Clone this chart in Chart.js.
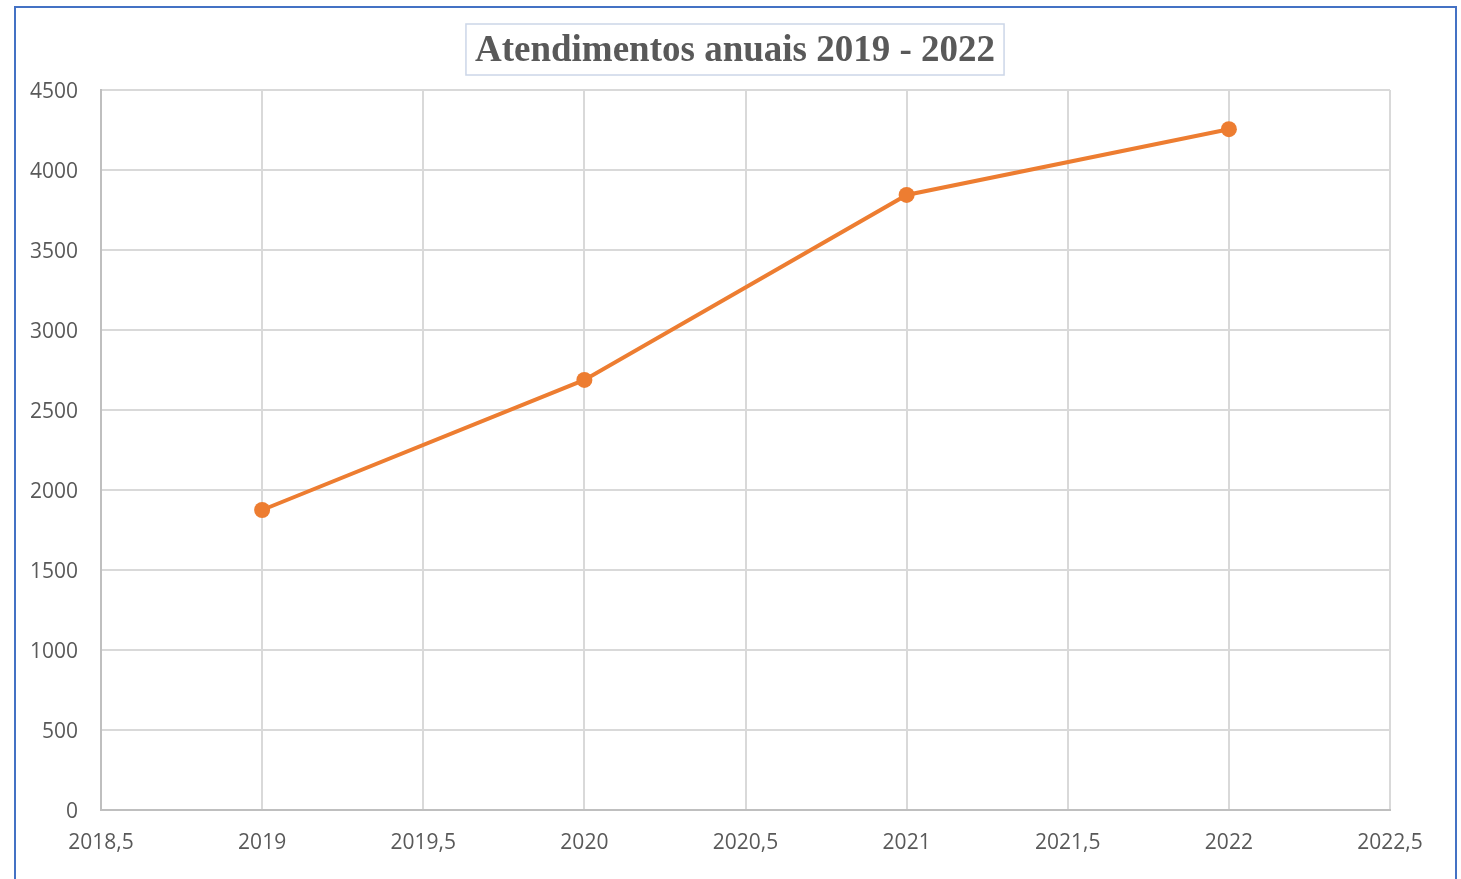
<!DOCTYPE html>
<html>
<head>
<meta charset="utf-8">
<script src="https://cdn.jsdelivr.net/npm/chart.js@4.4.1/dist/chart.umd.min.js"></script>
<style>
  body { margin: 0; background: #fff; }
  #wrap { position: relative; width: 1461px; height: 879px; overflow: hidden; }
  #frame {
    position: absolute; left: 14px; top: 6px; width: 1443px; height: 900px;
    box-sizing: border-box; border: 2px solid #4472c4; border-bottom: none;
    pointer-events: none;
  }
</style>
</head>
<body>
<div id="wrap">
  <canvas id="chart" width="1461" height="879"></canvas>
  <div id="frame"></div>
</div>
<script>
// dados
var anos = [2019, 2020, 2021, 2022];
var atendimentos = [1875, 2688, 3844, 4255];
var xTickLabels = ["2018,5", "2019", "2019,5", "2020", "2020,5", "2021", "2021,5", "2022", "2022,5"];
var yTickLabels = ["0", "500", "1000", "1500", "2000", "2500", "3000", "3500", "4000", "4500"];

var titulo = "Atendimentos anuais 2019 - 2022";
var cinza = "#595959";
var tickFont = { family: "'Open Sans', 'Liberation Sans', sans-serif", size: 21 };

// titulo com moldura (centrado como no original, um pouco a esquerda do grafico)
var titleBox = {
    id: "titleBox",
    afterDraw: function (chart) {
        var ctx = chart.ctx;
        var cx = 735;
        ctx.save();
        ctx.font = "bold 37px 'Liberation Serif', 'Times New Roman', serif";
        var w = ctx.measureText(titulo).width;
        ctx.strokeStyle = "#ccd6e8";
        ctx.lineWidth = 1.5;
        ctx.strokeRect(cx - w / 2 - 9, 24, w + 18, 51);
        ctx.fillStyle = cinza;
        ctx.textAlign = "center";
        ctx.textBaseline = "middle";
        ctx.fillText(titulo, cx, 51);
        ctx.restore();
    }
};

var ctx = document.getElementById("chart").getContext("2d");
var chart = new Chart(ctx, {
    type: "line",
    data: {
        datasets: [
            {
                label: "Atendimentos",
                data: anos.map(function (a, i) { return { x: a, y: atendimentos[i] }; }),
                borderColor: "#ed7d31",
                backgroundColor: "#ed7d31",
                borderWidth: 4,
                pointRadius: 8,
                pointBorderWidth: 0,
                tension: 0
            }
        ]
    },
    options: {
        responsive: false,
        animation: false,
        layout: { padding: { left: 20, right: 71, top: 90, bottom: 0 } },
        plugins: {
            legend: { display: false },
            tooltip: { enabled: false },
            title: { display: false }
        },
        scales: {
            x: {
                type: "linear",
                min: 2018.5,
                max: 2022.5,
                afterFit: function (s) { s.height = 69; },
                ticks: {
                    stepSize: 0.5,
                    color: cinza,
                    font: tickFont,
                    padding: 20,
                    maxRotation: 0,
                    autoSkip: false,
                    callback: function (v, i) { return xTickLabels[i]; }
                },
                grid: { color: "#d9d9d9", lineWidth: 2, drawTicks: false },
                border: { color: "#bfbfbf", width: 2 }
            },
            y: {
                min: 0,
                max: 4500,
                afterFit: function (s) { s.width = 81; },
                ticks: {
                    stepSize: 500,
                    color: cinza,
                    font: tickFont,
                    padding: 23,
                    labelOffset: 2,
                    callback: function (v, i) { return yTickLabels[i]; }
                },
                grid: { color: "#d9d9d9", lineWidth: 2, drawTicks: false },
                border: { color: "#bfbfbf", width: 2 }
            }
        }
    },
    plugins: [titleBox]
});
</script>
</body>
</html>
